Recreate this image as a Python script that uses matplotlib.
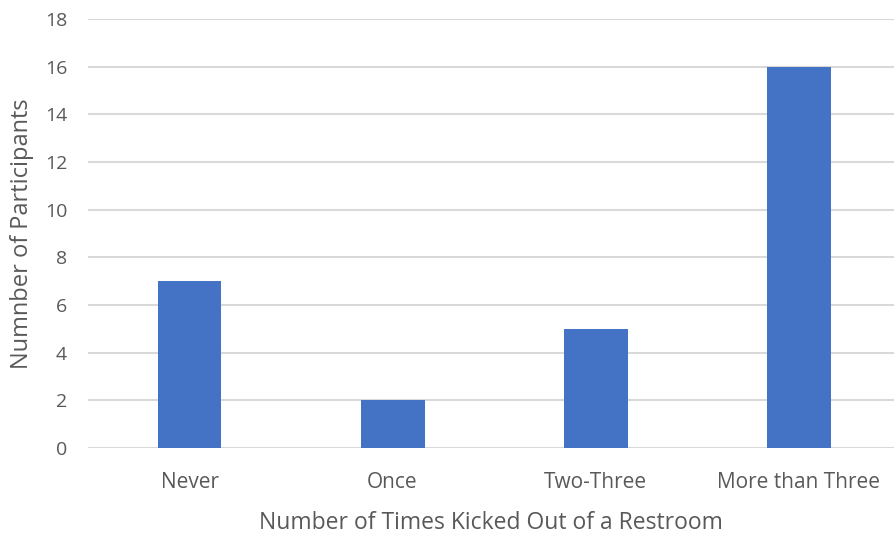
import matplotlib
matplotlib.use("Agg")
import matplotlib.pyplot as plt

categories = ["Never", "Once", "Two-Three", "More than Three"]
participants = [7, 2, 5, 16]
y_ticks = [0, 2, 4, 6, 8, 10, 12, 14, 16, 18]

plt.rcParams["font.family"] = ["Open Sans", "DejaVu Sans"]

W, H = 894, 535
fig = plt.figure(figsize=(W / 100, H / 100), dpi=100)
ax = fig.add_axes([88 / W, 87 / H, (W - 88) / W, (448 - 19) / H])

x = list(range(len(categories)))
ax.bar(x, participants, width=0.315, color="#4472C4", zorder=3)

ax.set_xlim(-0.5, 3.47)
ax.set_ylim(0, 18)
ax.set_yticks(y_ticks)
ax.set_xticks(x)
ax.set_xticklabels(categories)
ax.yaxis.grid(True, color="#D9D9D9", linewidth=1.5, zorder=0)
ax.set_axisbelow(True)
for s in ax.spines.values():
    s.set_visible(False)
ax.tick_params(axis="both", length=0, colors="#595959")
ax.tick_params(axis="x", pad=17, labelsize=15)
ax.tick_params(axis="y", pad=15, labelsize=14)

ax.set_xlabel("Number of Times Kicked Out of a Restroom", fontsize=16.5,
              color="#595959", labelpad=13)
ax.set_ylabel("Numnber of Participants", fontsize=17, color="#595959",
              labelpad=8)

fig.savefig("out.png", dpi=100)
